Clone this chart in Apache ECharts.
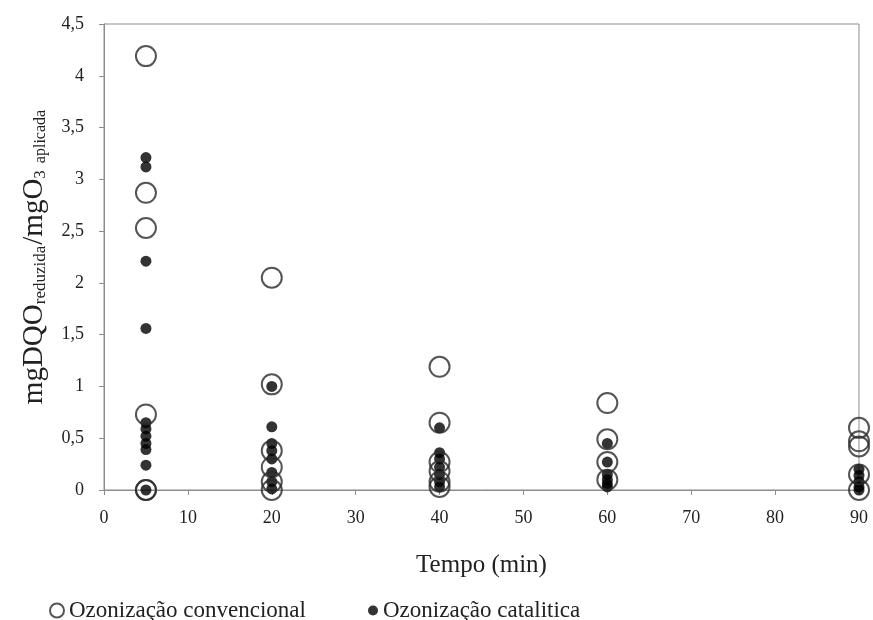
<!DOCTYPE html>
<html>
<head>
<meta charset="utf-8">
<script src="https://cdn.jsdelivr.net/npm/echarts@6/dist/echarts.min.js"></script>
<style>
  html, body { margin: 0; padding: 0; background: #fff; }
  #chart { width: 873px; height: 620px; }
</style>
</head>
<body>
<div id="chart"></div>
<script>
// tempos de coleta (min)
var tempos = [5, 20, 40, 60, 90];
// valores, um array por tempo
var convencional = [
    [4.19, 2.87, 2.53, 0.73, 0, 0],
    [2.05, 1.02, 0.38, 0.22, 0.08, 0],
    [1.19, 0.65, 0.27, 0.18, 0.08, 0.03],
    [0.84, 0.49, 0.27, 0.1],
    [0.6, 0.47, 0.42, 0.15, 0]
];
var catalitica = [
    [3.21, 3.12, 2.21, 1.56, 0.65, 0.59, 0.52, 0.45, 0.39, 0.24, 0],
    [1.0, 0.61, 0.45, 0.38, 0.3, 0.17, 0.08, 0.01],
    [0.6, 0.36, 0.3, 0.22, 0.15, 0.08, 0.03],
    [0.45, 0.27, 0.15, 0.1, 0.06, 0.03],
    [0.2, 0.14, 0.08, 0.03, 0]
];
var yTicks = [0, 0.5, 1, 1.5, 2, 2.5, 3, 3.5, 4, 4.5];

function toPoints(valores) {
    var pts = [];
    valores.forEach(function(lista, i) {
        lista.forEach(function(v) {
            pts.push([tempos[i], v]);
        });
    });
    return pts;
}

var font = 'Liberation Serif';
var axisColor = '#8c8c8c';

var myChart = echarts.init(document.getElementById('chart'));
var option = {
    backgroundColor: '#fff',
    animation: false,
    textStyle: { fontFamily: font, color: '#222' },
    grid: {
        left: 104, right: 14, top: 24, bottom: 130,
        show: true, borderColor: axisColor, borderWidth: 1
    },
    legend: [{
        data: ['Ozonização convencional'],
        left: 44, top: 594,
        icon: 'circle', itemWidth: 14, itemHeight: 14, itemGap: 4,
        textStyle: { fontFamily: font, fontSize: 23, color: '#222' }
    }, {
        data: ['Ozonização catalitica'],
        left: 363, top: 594,
        icon: 'circle', itemWidth: 10, itemHeight: 10, itemGap: 4,
        textStyle: { fontFamily: font, fontSize: 23, color: '#222' }
    }],
    xAxis: {
        type: 'value',
        min: 0, max: 90, interval: 10,
        name: 'Tempo (min)',
        nameLocation: 'middle',
        nameGap: 63,
        nameTextStyle: { fontFamily: font, fontSize: 25, color: '#222' },
        axisLine: { show: true, lineStyle: { color: axisColor } },
        axisTick: { show: true, inside: false, length: 5, lineStyle: { color: axisColor } },
        axisLabel: { fontFamily: font, fontSize: 18, color: '#222', margin: 19 },
        splitLine: { show: false }
    },
    yAxis: {
        type: 'value',
        min: yTicks[0], max: yTicks[yTicks.length - 1], interval: 0.5,
        name: '{a|mgDQO}{s|reduzida}{a|/mgO}{s|3}{t|aplicada}',
        nameLocation: 'middle',
        nameGap: 55,
        nameRotate: 90,
        nameTextStyle: {
            fontFamily: font, color: '#222',
            rich: {
                a: { fontFamily: font, fontSize: 29, color: '#222', verticalAlign: 'bottom', lineHeight: 32 },
                s: { fontFamily: font, fontSize: 17, color: '#222', verticalAlign: 'bottom', lineHeight: 22, padding: [0, 1, 0, 0] },
                t: { fontFamily: font, fontSize: 16, color: '#222', verticalAlign: 'bottom', lineHeight: 22, padding: [0, 0, 0, 6] }
            }
        },
        axisLine: { show: true, lineStyle: { color: axisColor } },
        axisTick: { show: true, inside: false, length: 5, lineStyle: { color: axisColor } },
        axisLabel: {
            fontFamily: font, fontSize: 18, color: '#222', margin: 20,
            formatter: function(v) { return String(v).replace('.', ','); }
        },
        splitLine: { show: false }
    },
    series: [{
        name: 'Ozonização convencional',
        type: 'scatter',
        symbol: 'circle',
        symbolSize: 20,
        itemStyle: { color: 'rgba(255,255,255,0)', borderColor: '#2a2a2a', borderWidth: 2 },
        data: toPoints(convencional),
        z: 3
    }, {
        name: 'Ozonização catalitica',
        type: 'scatter',
        symbol: 'circle',
        symbolSize: 11,
        itemStyle: { color: '#000' },
        data: toPoints(catalitica),
        z: 2
    }]
};
myChart.setOption(option);
</script>
</body>
</html>
